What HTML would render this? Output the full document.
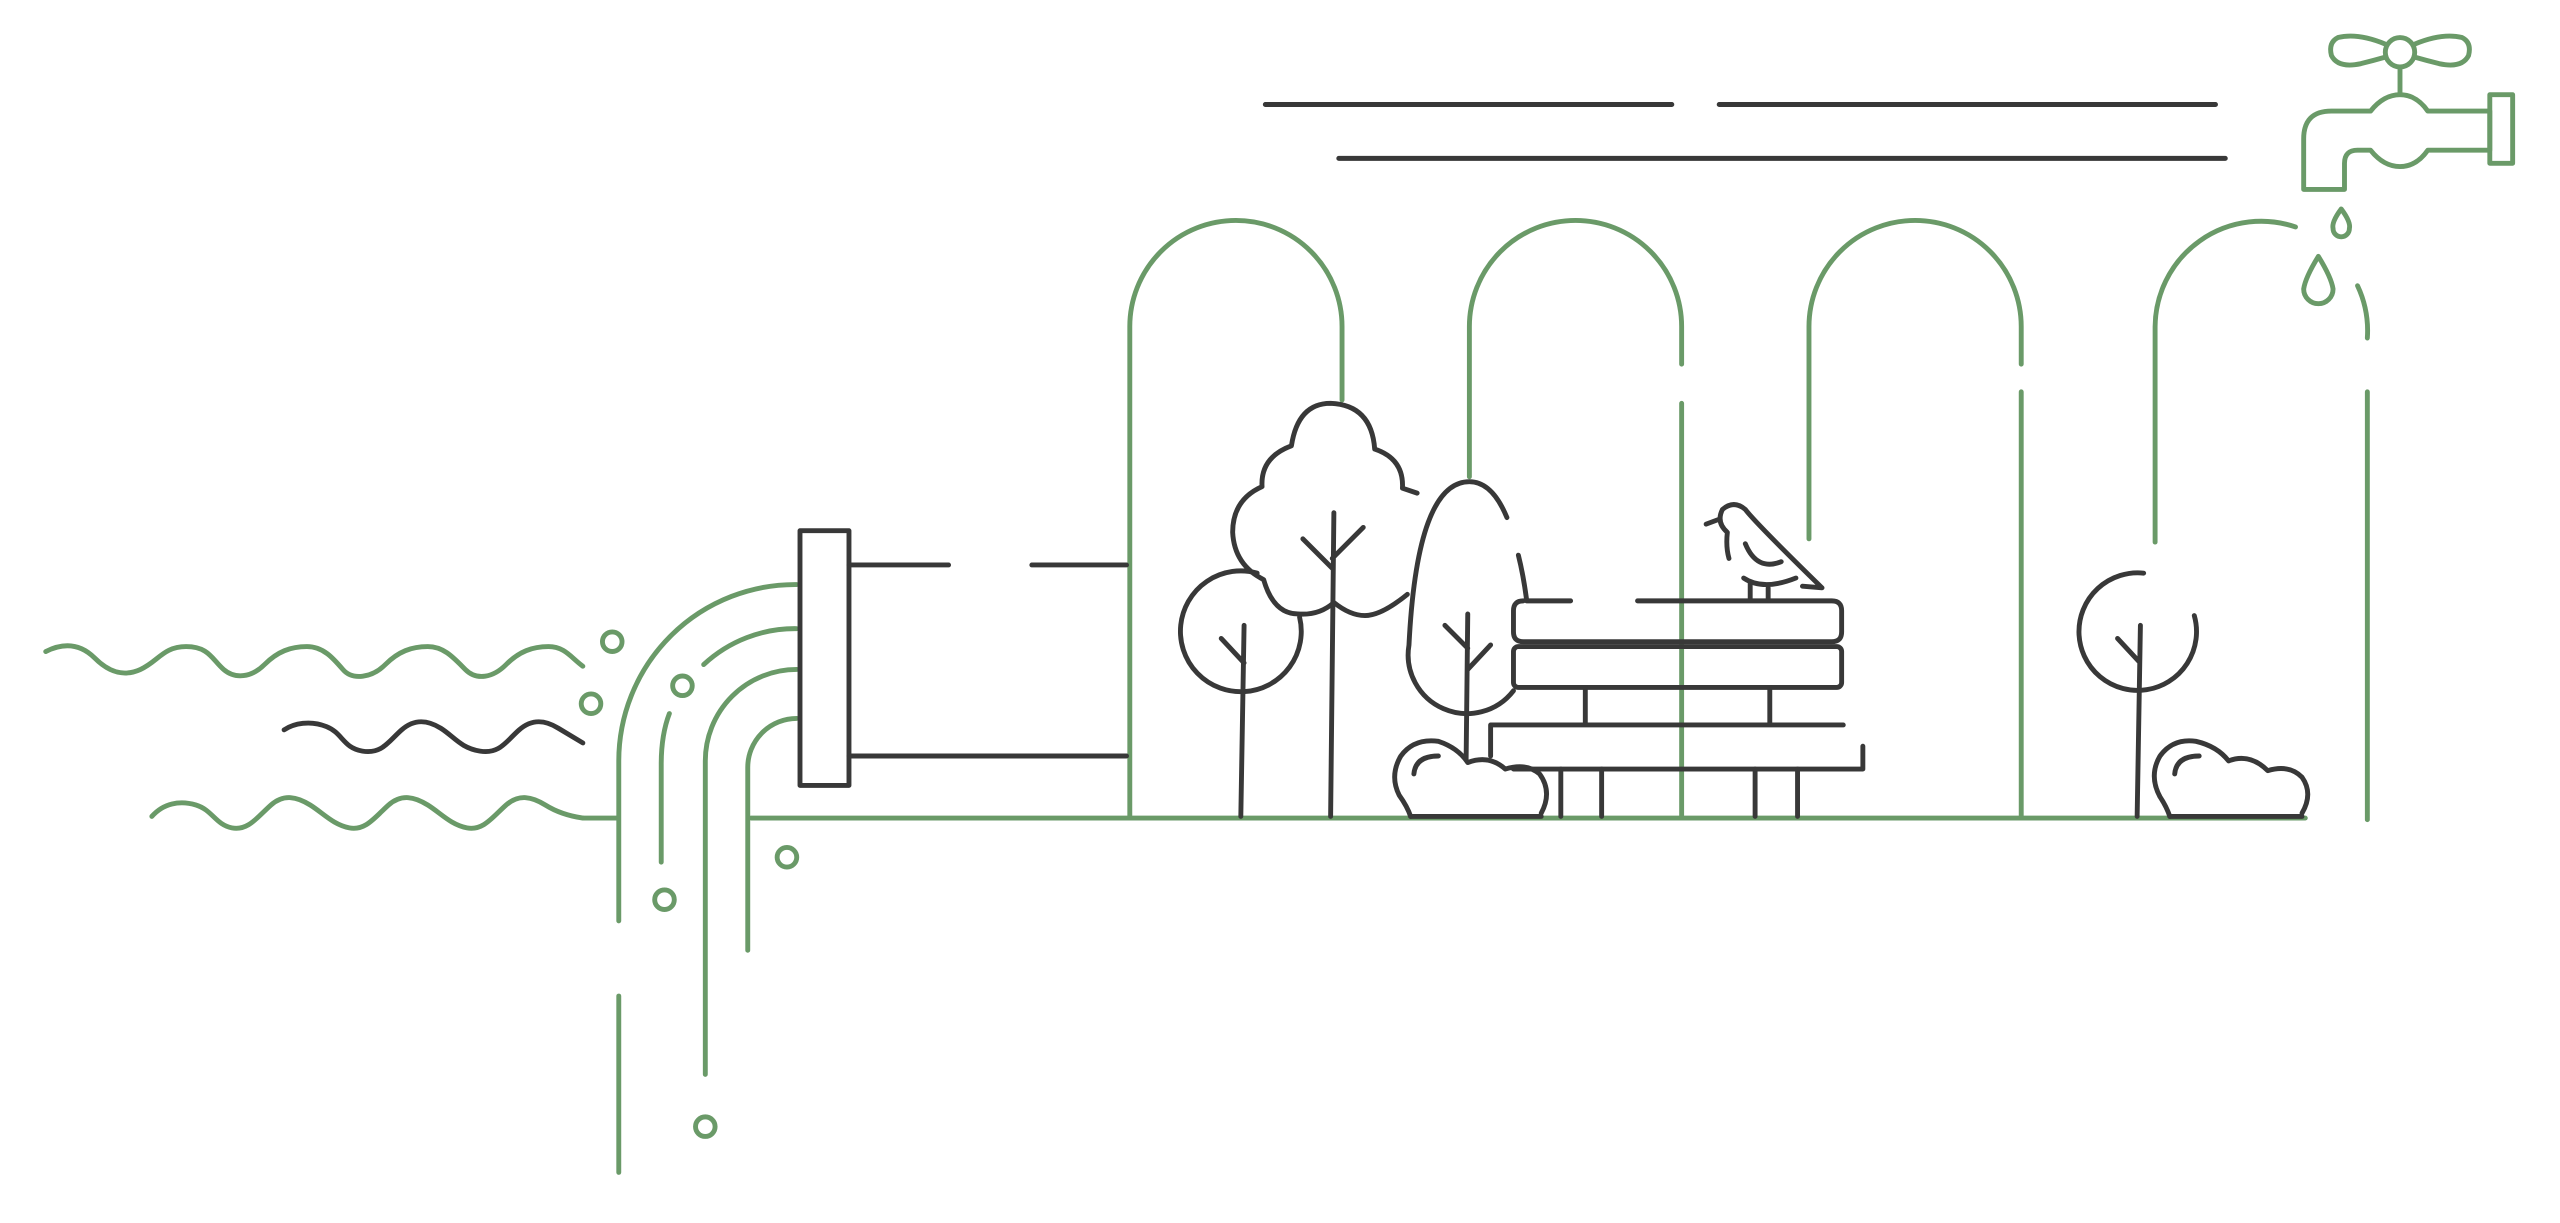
<!DOCTYPE html>
<html><head><meta charset="utf-8"><style>html,body{margin:0;padding:0;background:#fff}svg{display:block}</style></head>
<body>
<svg width="2560" height="1223" viewBox="0 0 1568 749" preserveAspectRatio="none" xmlns="http://www.w3.org/2000/svg">
<g fill="none" stroke-linecap="round" stroke-linejoin="round" stroke-width="3">
<g stroke="#6a9a68">
<!-- arches -->
<path d="M692 500V200A65 65 0 0 1 822 200V245"/>
<path d="M900 292V200A65 65 0 0 1 1030 200V223M1030 247V500"/>
<path d="M1108 330V200A65 65 0 0 1 1238 200V223M1238 240V500"/>
<path d="M1320 332V200A65 65 0 0 1 1406 139"/>
<path d="M1444 175A65 65 0 0 1 1450 207M1450 240V502"/>
<!-- ground -->
<path d="M460 501H1412"/>
<path d="M357 501H378"/>
<!-- pipe flows -->
<path d="M379 564V466A108 108 0 0 1 488 358"/>
<path d="M431 407A82 82 0 0 1 488 385"/>
<path d="M410 437Q405 450 405 468V528"/>
<path d="M432 658V466A56 56 0 0 1 488 410"/>
<path d="M458 582V470A30 30 0 0 1 488 440"/>
<path d="M379 610V718"/>
<circle cx="375" cy="393" r="6"/><circle cx="418" cy="420" r="6"/><circle cx="362" cy="431" r="6"/>
<circle cx="482" cy="525" r="6"/><circle cx="407" cy="551" r="6"/><circle cx="432" cy="690" r="6"/>
<!-- waves -->
<path d="M28 399C40 393 50 395 58 403S75 415 86 410S100 396 114 396S130 404 137 410S154 415 162 407S178 396 188 396S204 403 210 410S228 415 236 407S252 396 262 396S278 403 285 410S302 415 310 407S326 396 336 396S350 403 357 408"/>
<path d="M93 500C100 492 110 490 120 493S132 505 142 507S158 500 166 493S182 488 190 493S204 505 214 507S230 500 238 493S254 488 262 493S276 505 286 507S302 500 310 493S326 488 334 493S350 500 357 501"/>
<!-- faucet -->
<path d="M1411 116V85Q1411 68 1428 68H1452Q1460 58 1470 58Q1480 58 1487 68H1525V92H1487Q1480 102 1470 102Q1460 102 1452 92H1444Q1436 92 1436 100V116Z"/>
<rect x="1525" y="58" width="14" height="42"/>
<path d="M1470 41V58"/>
<circle cx="1470" cy="32" r="9"/>
<path d="M1461 27Q1444 20 1432 23Q1426 26 1428 34Q1432 42 1446 39Q1454 37 1461 35"/>
<path d="M1479 27Q1496 20 1508 23Q1514 26 1512 34Q1508 42 1494 39Q1486 37 1479 35"/>
<path d="M1434 128Q1428 136 1429 140A5 5 0 0 0 1439 140Q1440 136 1434 128Z"/>
<path d="M1420 157Q1412 170 1411 177A9 9 0 0 0 1429 177Q1428 170 1420 157Z"/>
</g>
<g stroke="#383838">
<path d="M775 64H1024M1053 64H1357M820 97H1363"/>
<rect x="490" y="325" width="30" height="156"/>
<path d="M520 346H581M632 346H690M520 463H690"/>
<path d="M174 447C180 443 190 441 200 445S210 458 222 460S238 454 246 447S262 441 270 446S282 458 294 460S310 454 318 447S334 441 342 446L357 455"/>
<!-- big tree -->
<path d="M815 500L817 314M798 330L816 348M835 323L816 342"/>
<path d="M868 302L859 299Q860 281 842 275Q840 248 815 247Q795 247 791 273Q772 280 773 298Q755 306 755 326Q756 346 774 355Q780 376 795 376Q808 377 817 369Q827 377 836 377Q846 377 862 364"/>
<!-- left small tree -->
<path d="M770 351A37 37 0 1 0 796 378"/>
<path d="M760 500L762 383M748 391L762 406"/>
<!-- tall oval tree -->
<path d="M923 317Q914 295 900 295Q868 295 863 395A36 36 0 0 0 927 423"/>
<path d="M930 340Q933 352 935 367"/>
<path d="M898 465L899 376M885 383L899 397M913 395L899 410"/>
<!-- bench -->
<path d="M935 368H962M1003 368H1122Q1128 368 1128 374V387Q1128 393 1122 393H933Q927 393 927 387V374Q927 368 933 368"/>
<rect x="927" y="396" width="201" height="25" rx="3"/>
<path d="M971 421V444M1084 421V444M913 463V444H1129M927 471H1141V457"/>
<path d="M956 471V500M981 471V500M1075 471V500M1101 471V500"/>
<!-- bird -->
<path d="M1045 321L1053 318"/>
<path d="M1059 342Q1057 335 1058 326Q1051 320 1055 312Q1062 306 1069 312Q1075 320 1116 360L1104 359"/>
<path d="M1069 333Q1076 350 1091 344"/>
<path d="M1068 354Q1080 362 1100 354"/>
<path d="M1072 357V367M1083 360V367"/>
<!-- right tree -->
<path d="M1313 351A36 36 0 1 0 1344 377"/>
<path d="M1309 500L1311 383M1297 391L1310 405"/>
<!-- bushes -->
<path d="M864 500Q862 494 857 487Q851 475 858 463Q866 452 881 454Q893 458 899 467Q912 462 922 471Q935 467 943 474Q951 485 944 498"/>
<path d="M866 474Q867 463 881 463"/>
<path d="M864 500H944"/>
<path d="M1329 500Q1327 494 1323 488Q1316 475 1323 463Q1331 452 1345 454Q1358 457 1365 466Q1378 461 1389 472Q1402 468 1410 476Q1417 486 1410 498"/>
<path d="M1332 474Q1333 463 1347 463"/>
<path d="M1329 500H1410"/>
</g>
</g>
</svg>
</body></html>
